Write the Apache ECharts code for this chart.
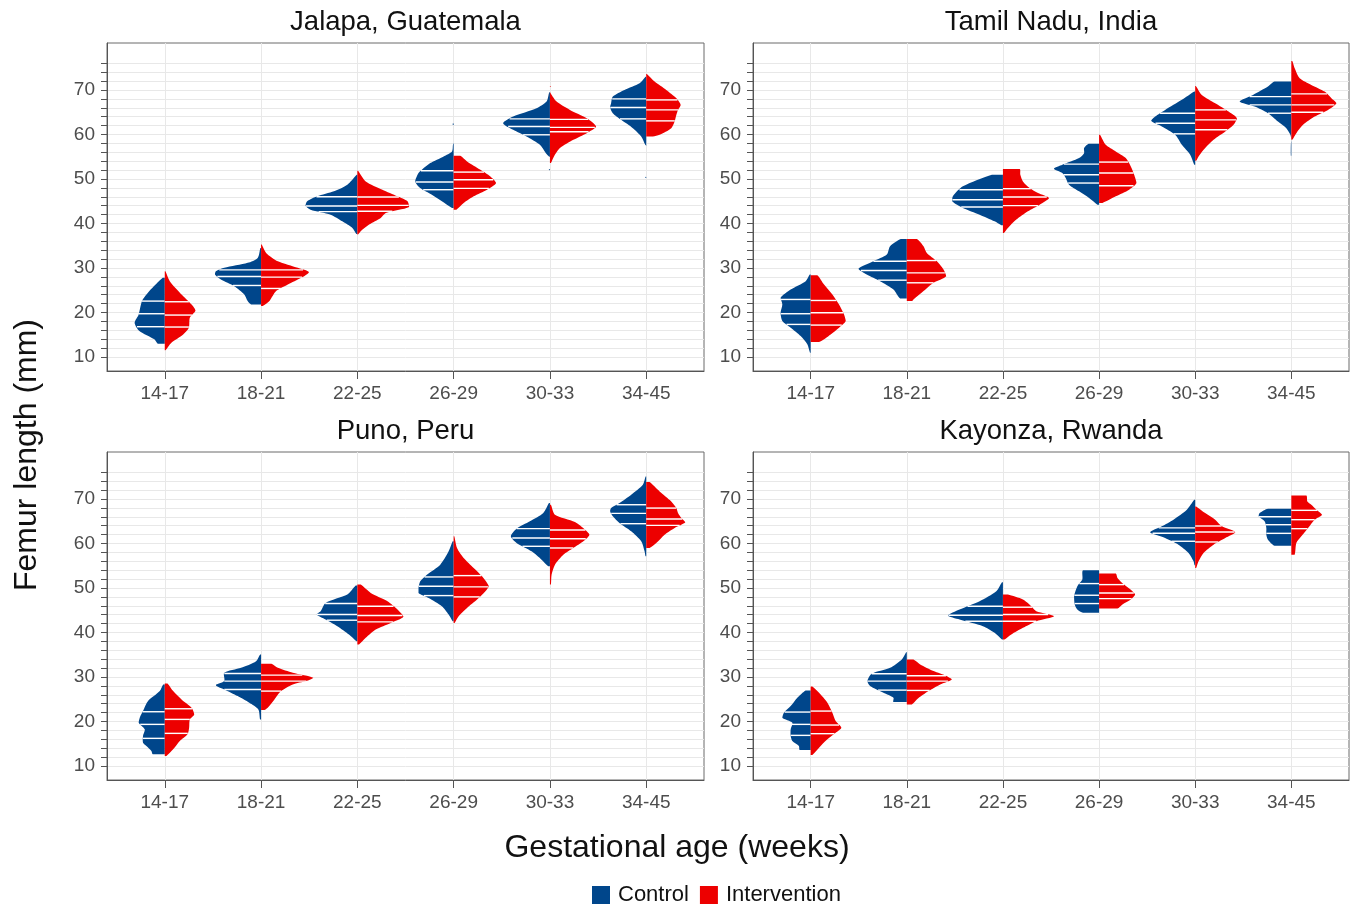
<!DOCTYPE html>
<html>
<head>
<meta charset="utf-8">
<script src="https://cdn.jsdelivr.net/npm/echarts@6/dist/echarts.min.js"></script>
<style>
  html, body { margin: 0; padding: 0; background: #ffffff; }
  #chart { width: 1350px; height: 909px; }
</style>
</head>
<body>
<div id="chart"></div>
<script>
// Gestational-age bins and study sites
const categories = ['14-17', '18-21', '22-25', '26-29', '30-33', '34-45'];
const sites = ['Jalapa, Guatemala', 'Tamil Nadu, India', 'Puno, Peru', 'Kayonza, Rwanda'];
const groups = ['Control', 'Intervention'];
const yTickValues = [10, 12, 14, 16, 18, 20, 22, 24, 26, 28, 30, 32, 34, 36, 38, 40, 42, 44, 46, 48,
                     50, 52, 54, 56, 58, 60, 62, 64, 66, 68, 70, 72, 74, 76];
const yLabelValues = [10, 20, 30, 40, 50, 60, 70];

// Half-violin density profiles: per bin, [femur length (mm), half width (category units)], bottom to top
const jalapaControl = [
  [[12.99,.073],[13.96,.108],[15.83,.264],[17.70,.313],[19.57,.271],[22.56,.236],[24.80,.160],[27.79,.021]],
  [[21.81,.104],[22.56,.139],[24.05,.174],[25.92,.278],[27.41,.417],[28.54,.479],[29.28,.469],[30.03,.382],[31.15,.139],[32.27,.035],[34.51,.007]],
  [[37.65,.010],[39.00,.052],[40.49,.156],[41.99,.278],[43.11,.486],[44.01,.538],[44.98,.521],[46.10,.417],[47.22,.243],[48.71,.104],[50.96,.007]],
  [[43.48,.017],[44.98,.122],[46.47,.226],[47.97,.347],[49.46,.399],[51.33,.365],[52.08,.330],[53.57,.243],[55.07,.104],[56.19,.017],[57.68,.007],[58.2,0],[62.1,0],[62.32,.012],[62.5,0]],
  [[51.9,0],[52.08,.012],[52.3,0],[54.9,0],[55.07,.010],[55.81,.042],[57.68,.104],[59.55,.243],[61.05,.382],[62.54,.486],[64.04,.382],[65.90,.139],[67.40,.035],[69.49,.007]],
  [[50.2,0],[50.36,.012],[50.5,0],[57.4,0],[57.68,.010],[59.55,.052],[61.42,.139],[63.29,.260],[64.78,.347],[66.13,.375],[67.03,.365],[68.52,.347],[70.01,.226],[71.51,.069],[73.00,.007]]
];
const jalapaIntervention = [
  [[11.49,.007],[13.21,.069],[15.08,.191],[16.58,.250],[18.82,.260],[20.46,.319],[21.81,.278],[24.05,.174],[27.04,.052],[29.28,.007]],
  [[21.43,.017],[22.56,.087],[24.80,.156],[26.29,.278],[27.79,.417],[29.06,.497],[30.03,.382],[31.52,.174],[33.39,.052],[35.26,.007]],
  [[37.50,.007],[38.25,.035],[39.75,.122],[41.24,.243],[42.36,.295],[43.71,.538],[44.98,.521],[46.10,.417],[47.59,.260],[49.46,.087],[51.85,.007]],
  [[43.11,.028],[44.60,.104],[46.10,.208],[47.59,.347],[49.09,.441],[50.58,.382],[52.08,.278],[53.95,.139],[55.22,.069]],
  [[53.57,.010],[55.07,.042],[56.94,.104],[58.80,.243],[60.30,.382],[61.79,.479],[63.66,.382],[65.53,.208],[67.40,.069],[69.27,.007],[69.6,0],[70.6,0],[70.76,.012],[70.9,0]],
  [[59.55,.069],[59.93,.139],[61.42,.260],[62.92,.295],[64.41,.313],[65.53,.330],[66.65,.358],[68.15,.313],[70.01,.208],[71.89,.087],[73.60,.007]]
];
const tamilNaduControl = [
  [[10.97,.007],[12.84,.035],[14.71,.104],[16.58,.208],[18.07,.295],[19.94,.313],[21.81,.295],[23.30,.313],[25.17,.208],[27.04,.052],[28.53,.010]],
  [[23.15,.069],[25.17,.139],[27.04,.278],[28.53,.417],[29.81,.503],[31.52,.347],[33.02,.208],[34.89,.174],[36.53,.063]],
  [[39.60,.017],[40.49,.087],[41.99,.243],[43.48,.417],[44.98,.528],[46.10,.521],[48.34,.417],[50.96,.115]],
  [[44.23,.017],[45.72,.104],[47.22,.208],[48.71,.313],[50.21,.347],[51.33,.382],[52.30,.469],[53.20,.382],[54.69,.208],[55.81,.156],[56.94,.156],[57.91,.108]],
  [[53.20,.010],[55.44,.052],[57.68,.139],[59.93,.208],[61.79,.347],[63.06,.458],[64.04,.417],[65.53,.313],[67.78,.139],[69.64,.010]],
  [[55.22,.005],[57.68,.005],[58.80,0],[59.93,.010],[61.42,.052],[62.92,.139],[64.78,.243],[66.28,.382],[67.40,.538],[68.89,.399],[70.76,.243],[71.89,.174]]
];
const tamilNaduIntervention = [
  [[13.36,.087],[15.08,.208],[16.58,.295],[18.07,.365],[19.57,.347],[21.81,.295],[24.05,.226],[26.29,.139],[28.39,.069]],
  [[22.56,.052],[22.93,.069],[24.80,.174],[26.67,.278],[28.16,.410],[29.66,.382],[31.52,.313],[33.39,.208],[34.89,.174],[36.53,.104]],
  [[37.88,.010],[39.00,.052],[40.87,.139],[42.74,.260],[44.23,.382],[45.72,.479],[46.85,.365],[47.97,.278],[49.46,.208],[50.96,.181],[52.23,.174]],
  [[44.60,.035],[46.10,.174],[47.59,.313],[49.09,.389],[50.96,.365],[52.83,.330],[54.69,.278],[56.19,.174],[57.68,.069],[59.93,.010]],
  [[54.10,.010],[55.07,.035],[56.94,.104],[58.80,.191],[60.67,.313],[62.17,.399],[63.66,.434],[65.16,.347],[67.03,.208],[68.89,.069],[70.91,.007]],
  [[58.80,.010],[60.30,.052],[62.17,.122],[64.04,.243],[65.53,.382],[67.03,.469],[68.15,.417],[69.64,.347],[71.14,.208],[72.63,.087],[74.87,.035],[76.52,.010]]
];
const punoControl = [
  [[12.62,.125],[13.37,.139],[14.49,.191],[15.24,.226],[16.73,.226],[18.23,.208],[19.72,.271],[20.85,.260],[22.34,.226],[24.58,.174],[26.83,.052],[28.32,.017]],
  [[20.47,.010],[22.72,.028],[24.21,.122],[25.71,.243],[27.20,.382],[28.17,.469],[29.07,.382],[30.94,.382],[32.06,.208],[33.56,.052],[35.06,.010]],
  [[38.05,.010],[39.54,.087],[41.41,.208],[42.91,.330],[44.03,.424],[44.78,.382],[46.65,.330],[48.52,.104],[50.54,.017]],
  [[42.54,.010],[44.03,.052],[45.90,.122],[47.77,.260],[48.89,.365],[50.01,.365],[51.51,.347],[53.00,.278],[55.25,.139],[58.24,.052],[60.49,.010]],
  [[54.88,.017],[56.37,.087],[58.24,.191],[60.11,.347],[61.61,.406],[63.33,.347],[64.97,.208],[66.84,.069],[69.09,.010]],
  [[57.12,.007],[58.24,.017],[60.49,.052],[62.73,.156],[64.60,.278],[66.10,.347],[67.22,.375],[67.96,.365],[69.09,.278],[70.96,.156],[73.20,.035],[75.07,.007]]
];
const punoIntervention = [
  [[12.24,.017],[13.74,.087],[15.61,.156],[17.11,.236],[18.60,.253],[20.47,.260],[21.59,.306],[23.09,.278],[24.96,.174],[26.83,.087],[28.55,.028]],
  [[22.57,.035],[23.09,.069],[24.96,.139],[26.83,.208],[28.32,.330],[29.07,.469],[29.82,.542],[30.94,.330],[32.06,.174],[32.96,.108]],
  [[37.30,.017],[38.80,.087],[40.67,.191],[42.16,.347],[43.51,.479],[45.16,.417],[47.02,.313],[48.89,.139],[50.76,.035]],
  [[42.16,.010],[43.66,.052],[45.53,.139],[47.40,.243],[49.27,.330],[50.39,.365],[51.14,.347],[52.63,.295],[54.50,.208],[56.75,.104],[58.99,.035],[61.61,.007]],
  [[50.76,.010],[53.00,.017],[55.25,.052],[57.49,.139],[58.99,.243],[60.49,.347],[61.98,.410],[63.10,.365],[64.82,.260],[66.47,.052],[68.71,.010]],
  [[58.99,.035],[60.11,.104],[61.98,.191],[63.48,.295],[64.75,.406],[65.72,.365],[66.84,.330],[67.96,.313],[69.46,.260],[71.70,.139],[73.80,.035]]
];
const kayonzaControl = [
  [[13.59,.115],[14.49,.122],[15.61,.191],[16.73,.208],[18.23,.208],[19.72,.191],[20.85,.295],[21.97,.278],[23.46,.208],[25.33,.139],[26.98,.052]],
  [[24.36,.139],[25.33,.139],[26.45,.243],[27.95,.382],[29.07,.410],[30.72,.365],[32.06,.174],[33.93,.052],[35.58,.007]],
  [[38.42,.010],[39.92,.087],[41.41,.208],[42.91,.451],[43.81,.573],[45.16,.451],[47.02,.243],[49.27,.069],[51.29,.010]],
  [[44.41,.167],[45.16,.226],[46.28,.253],[48.15,.260],[50.39,.226],[51.89,.174],[53.98,.167]],
  [[55.10,.007],[55.99,.017],[57.87,.069],[59.74,.174],[61.23,.313],[62.51,.469],[63.85,.347],[65.35,.226],[67.59,.087],[69.84,.010]],
  [[59.51,.174],[60.86,.243],[61.98,.260],[63.48,.260],[64.97,.278],[66.10,.340],[66.84,.330],[67.82,.243]]
];
const kayonzaIntervention = [
  [[12.47,.017],[14.11,.087],[15.98,.174],[17.48,.260],[18.60,.319],[20.10,.260],[21.97,.226],[24.21,.174],[26.45,.087],[27.88,.017]],
  [[23.84,.052],[24.96,.104],[26.83,.226],[28.32,.347],[29.45,.469],[30.19,.417],[31.32,.278],[32.81,.139],[33.93,.069]],
  [[38.42,.017],[39.54,.087],[41.04,.208],[42.54,.347],[43.66,.531],[44.78,.347],[45.90,.295],[47.40,.208],[48.52,.052]],
  [[45.38,.191],[46.28,.243],[47.40,.330],[48.52,.375],[49.27,.347],[50.76,.260],[52.26,.191],[53.23,.174]],
  [[54.50,.010],[55.99,.035],[57.87,.087],[59.74,.191],[61.23,.313],[62.51,.417],[63.85,.278],[65.35,.208],[66.84,.104],[68.34,.010]],
  [[57.49,.035],[60.11,.052],[61.61,.104],[63.48,.174],[65.35,.243],[66.47,.319],[67.59,.260],[68.71,.208],[69.46,.167],[70.81,.156]]
];

// Quartiles (25th, 50th, 75th percentile) per bin
const jalapaControlQ = [[16.80,19.72,22.56],[26.07,28.09,29.58],[42.66,43.93,46.02],[47.59,49.31,51.85],[59.93,61.79,63.51],[63.51,66.05,68.00]];
const jalapaInterventionQ = [[16.73,19.42,22.41],[25.40,27.94,29.58],[42.74,44.08,45.95],[47.89,49.84,51.55],[60.60,61.60,63.40],[63.06,65.53,67.77]];
const tamilNaduControlQ = [[17.32,19.72,22.93],[27.26,29.43,31.52],[43.71,45.35,47.59],[49.09,50.96,53.35],[60.15,62.54,64.78],[64.78,66.65,68.52]];
const tamilNaduInterventionQ = [[17.17,19.94,22.70],[26.67,28.91,31.67],[44.01,45.95,47.82],[48.49,51.33,53.80],[61.05,63.29,65.53],[65.00,66.65,69.12]];
const punoControlQ = [[16.21,19.35,22.19],[27.20,29.07,30.79],[42.76,44.03,46.50],[48.29,50.39,52.48],[59.37,61.23,63.33],[64.45,66.77,68.71]];
const punoInterventionQ = [[17.33,20.47,22.86],[26.83,29.07,30.42],[42.39,43.81,45.90],[48.00,50.24,52.78],[58.99,61.08,63.03],[64.08,65.50,67.96]];
const kayonzaControlQ = [[16.88,19.35,22.12],[27.05,29.07,30.72],[42.54,43.88,45.90],[46.50,48.37,50.99],[60.50,62.30,63.50],[62.28,64.22,66.02]];
const kayonzaInterventionQ = [[17.26,19.20,22.34],[26.98,29.07,30.27],[42.54,44.03,45.68],[47.62,48.89,50.76],[60.34,62.58,63.93],[63.33,65.35,67.45]];

const siteProfiles = [
  [jalapaControl, jalapaIntervention, jalapaControlQ, jalapaInterventionQ],
  [tamilNaduControl, tamilNaduIntervention, tamilNaduControlQ, tamilNaduInterventionQ],
  [punoControl, punoIntervention, punoControlQ, punoInterventionQ],
  [kayonzaControl, kayonzaIntervention, kayonzaControlQ, kayonzaInterventionQ]
];

const COLORS = { Control: '#00468B', Intervention: '#ED0000' };
const FONT = '"Liberation Sans", Arial, Helvetica, sans-serif';

// Facet layout (2 x 2 panels)
const colLeft = [107, 753];
const colWidth = [597, 596];
const rowTop = [43, 452];
const panelHeight = 328;

function widthAt(profile, v) {
  for (let k = 0; k < profile.length - 1; k++) {
    const a = profile[k], b = profile[k + 1];
    if (v >= a[0] && v <= b[0]) {
      const t = (v - a[0]) / (b[0] - a[0] || 1);
      return a[1] + t * (b[1] - a[1]);
    }
  }
  return 0;
}

function halfViolin(panel, group, profiles, quartiles) {
  const side = group === 'Control' ? -1 : 1;
  const color = COLORS[group];
  return {
    type: 'custom',
    name: group,
    xAxisIndex: panel,
    yAxisIndex: panel,
    itemStyle: { color: color },
    encode: { x: 0, y: 1 },
    data: categories.map((c, i) => [i + 1, quartiles[i][1]]),
    renderItem: function (params, api) {
      const i = params.dataIndex;
      const xc = api.value(0);
      const prof = profiles[i];
      const outer = prof.map(p => api.coord([xc + side * p[1], p[0]]));
      const inner = prof.slice().reverse().map(p => api.coord([xc, p[0]]));
      const pts = outer.concat(inner);
      let minX = Infinity, minY = Infinity, maxX = -Infinity, maxY = -Infinity;
      pts.forEach(p => {
        minX = Math.min(minX, p[0]); maxX = Math.max(maxX, p[0]);
        minY = Math.min(minY, p[1]); maxY = Math.max(maxY, p[1]);
      });
      const children = [{
        type: 'polygon',
        shape: { points: pts, smooth: 0.25, smoothConstraint: [[minX, minY], [maxX, maxY]] },
        style: { fill: color }
      }];
      quartiles[i].forEach(q => {
        const w = widthAt(prof, q);
        const p0 = api.coord([xc, q]);
        const p1 = api.coord([xc + side * w, q]);
        children.push({
          type: 'line',
          shape: { x1: p0[0], y1: p0[1], x2: p1[0], y2: p1[1] },
          style: { stroke: '#ffffff', lineWidth: 1.4 }
        });
      });
      return { type: 'group', children: children };
    }
  };
}

const grids = [], xAxes = [], yAxes = [], series = [], titles = [];
sites.forEach((site, k) => {
  const col = k % 2, row = Math.floor(k / 2);
  grids.push({
    left: colLeft[col], top: rowTop[row], width: colWidth[col], height: panelHeight,
    show: true, borderColor: '#6b6b6b', borderWidth: 1, backgroundColor: '#ffffff'
  });
  xAxes.push({
    type: 'value', gridIndex: k, min: 0.4, max: 6.6,
    axisLine: { show: true, lineStyle: { color: '#555555', width: 1 } },
    axisTick: { show: true, customValues: [1, 2, 3, 4, 5, 6], length: 8, lineStyle: { color: '#555555' } },
    axisLabel: {
      customValues: [1, 2, 3, 4, 5, 6], margin: 13,
      formatter: v => categories[Math.round(v) - 1],
      fontSize: 19, color: '#4D4D4D', fontFamily: FONT
    },
    splitLine: { show: true, lineStyle: { color: '#E8E8E8', width: 1 } }
  });
  yAxes.push({
    type: 'value', gridIndex: k, min: 6.85, max: 80.56,
    axisLine: { show: true, lineStyle: { color: '#555555', width: 1 } },
    axisTick: { show: true, customValues: yTickValues, length: 6, lineStyle: { color: '#555555' } },
    axisLabel: { customValues: yLabelValues, margin: 12, fontSize: 19, color: '#4D4D4D', fontFamily: FONT },
    splitLine: { show: true, lineStyle: { color: '#E8E8E8', width: 1 } }
  });
  const sp = siteProfiles[k];
  series.push(halfViolin(k, 'Control', sp[0], sp[2]));
  series.push(halfViolin(k, 'Intervention', sp[1], sp[3]));
  titles.push({
    text: site,
    left: colLeft[col] + colWidth[col] / 2,
    top: rowTop[row] - 36,
    textAlign: 'center',
    padding: 0,
    textStyle: { fontSize: 27.5, lineHeight: 30, fontWeight: 'normal', color: '#111111', fontFamily: FONT }
  });
});

const chart = echarts.init(document.getElementById('chart'), null, { renderer: 'canvas' });
chart.setOption({
  animation: false,
  backgroundColor: '#ffffff',
  title: titles,
  grid: grids,
  xAxis: xAxes,
  yAxis: yAxes,
  series: series,
  legend: {
    data: groups,
    left: 587, top: 879,
    icon: 'rect', itemWidth: 18, itemHeight: 18, itemGap: 11,
    selectedMode: false,
    textStyle: { fontSize: 22, color: '#111111', fontFamily: FONT, padding: [0, 0, 0, 3] }
  },
  graphic: [
    {
      type: 'text', x: 677, y: 848,
      style: { text: 'Gestational age (weeks)', fontSize: 32, fill: '#111111', fontFamily: FONT, align: 'center', verticalAlign: 'middle' }
    },
    {
      type: 'text', x: 27, y: 455, rotation: Math.PI / 2,
      style: { text: 'Femur length (mm)', fontSize: 32, fill: '#111111', fontFamily: FONT, align: 'center', verticalAlign: 'middle' }
    }
  ]
});
</script>
</body>
</html>
